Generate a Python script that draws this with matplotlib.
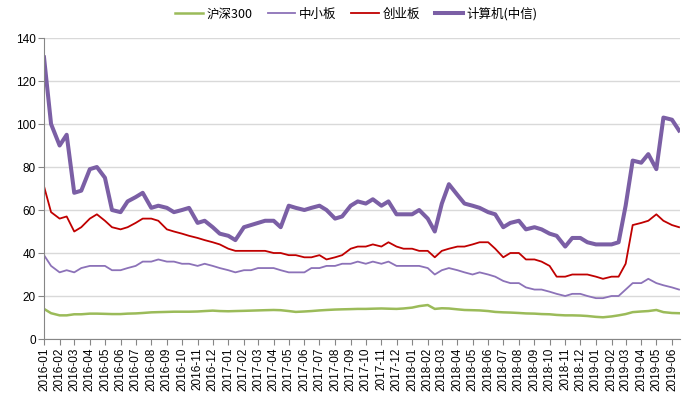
import matplotlib
matplotlib.use("Agg")
import matplotlib.pyplot as plt
import matplotlib.dates as mdates
import pandas as pd

# semi-monthly sampling, 2016-01-01 .. 2019-06-15
dates = pd.date_range("2016-01-01", "2019-06-15", freq="SMS")

hs300 = [14, 12, 11, 11, 11.5, 11.5, 11.8, 11.8, 11.7, 11.6, 11.6, 11.8, 11.9, 12.1,
         12.4, 12.5, 12.6, 12.7, 12.7, 12.7, 12.8, 13.0, 13.2, 13.0, 12.9, 13.0, 13.1, 13.2,
         13.3, 13.4, 13.5, 13.4, 13.0, 12.6, 12.8, 13.0, 13.3, 13.5, 13.7, 13.8, 13.9, 14.0,
         14.0, 14.1, 14.2, 14.1, 14.0, 14.2, 14.6, 15.3, 15.8, 14.0, 14.3, 14.2, 13.8, 13.5,
         13.4, 13.3, 13.0, 12.6, 12.4, 12.3, 12.1, 11.9, 11.8, 11.6, 11.5, 11.2, 11.0, 11.0,
         10.9, 10.7, 10.3, 10.1, 10.5, 11.0, 11.6, 12.5, 12.8, 13.0, 13.5, 12.5, 12.1, 12.0]

sme = [39, 34, 31, 32, 31, 33, 34, 34, 34, 32, 32, 33, 34, 36,
       36, 37, 36, 36, 35, 35, 34, 35, 34, 33, 32, 31, 32, 32,
       33, 33, 33, 32, 31, 31, 31, 33, 33, 34, 34, 35, 35, 36,
       35, 36, 35, 36, 34, 34, 34, 34, 33, 30, 32, 33, 32, 31,
       30, 31, 30, 29, 27, 26, 26, 24, 23, 23, 22, 21, 20, 21,
       21, 20, 19, 19, 20, 20, 23, 26, 26, 28, 26, 25, 24, 23]

chinext = [71, 59, 56, 57, 50, 52, 56, 58, 55, 52, 51, 52, 54, 56,
           56, 55, 51, 50, 49, 48, 47, 46, 45, 44, 42, 41, 41, 41,
           41, 41, 40, 40, 39, 39, 38, 38, 39, 37, 38, 39, 42, 43,
           43, 44, 43, 45, 43, 42, 42, 41, 41, 38, 41, 42, 43, 43,
           44, 45, 45, 42, 38, 40, 40, 37, 37, 36, 34, 29, 29, 30,
           30, 30, 29, 28, 29, 29, 35, 53, 54, 55, 58, 55, 53, 52]

computer = [131, 100, 90, 95, 68, 69, 79, 80, 75, 60, 59, 64, 66, 68,
            61, 62, 61, 59, 60, 61, 54, 55, 52, 49, 48, 46, 52, 53,
            54, 55, 55, 52, 62, 61, 60, 61, 62, 60, 56, 57, 62, 64,
            63, 65, 62, 64, 58, 58, 58, 60, 56, 50, 63, 72, 67, 63,
            62, 61, 59, 58, 52, 54, 55, 51, 52, 51, 49, 48, 43, 47,
            47, 45, 44, 44, 44, 45, 62, 83, 82, 86, 79, 103, 102, 97]

names = ["沪深300", "中小板", "创业板", "计算机(中信)"]
colors = ["#9BBB59", "#8C72B8", "#C00000", "#7B5FA5"]
widths = [1.8, 1.3, 1.3, 2.9]

plt.rcParams["font.family"] = ["Liberation Sans", "Noto Sans CJK SC", "DejaVu Sans"]

fig = plt.figure(figsize=(6.92, 4.01), dpi=100)
ax = fig.add_axes([0.0636, 0.1546, 0.9191, 0.7506])

for vals, name, c, w in zip([hs300, sme, chinext, computer], names, colors, widths):
    ax.plot(dates, vals, color=c, lw=w, label=name, solid_joinstyle="round")

ax.set_ylim(0, 140)
ax.set_yticks(range(0, 141, 20))
ax.set_xlim(pd.Timestamp("2016-01-01"), pd.Timestamp("2019-06-17"))
ax.xaxis.set_major_locator(mdates.MonthLocator())
ax.xaxis.set_major_formatter(mdates.DateFormatter("%Y-%m"))
ax.tick_params(axis="x", rotation=90, labelsize=8.5, length=4, color="#868686", pad=2)
ax.tick_params(axis="y", labelsize=8.5, length=4, color="#868686", pad=2)

ax.grid(axis="y", color="#D9D9D9", lw=1)
ax.set_axisbelow(True)
for s in ["top", "right"]:
    ax.spines[s].set_visible(False)
for s in ["left", "bottom"]:
    ax.spines[s].set_color("#868686")

leg = fig.legend(loc="center", bbox_to_anchor=(0.515, 0.965), ncol=4, frameon=False,
                 fontsize=9, handlelength=2.2, handletextpad=0.3, columnspacing=1.2,
                 prop={"family": ["Noto Sans CJK SC", "DejaVu Sans"], "size": 9})

fig.savefig("out.png", dpi=100)
